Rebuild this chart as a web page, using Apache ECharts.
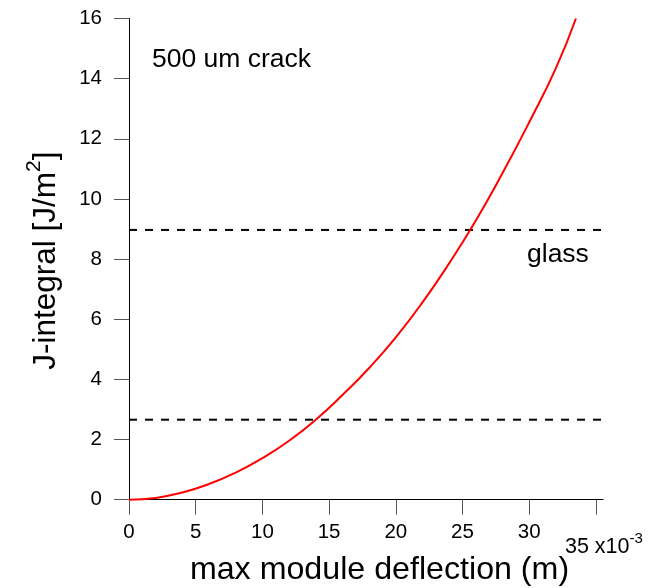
<!DOCTYPE html>
<html>
<head>
<meta charset="utf-8">
<script src="https://cdn.jsdelivr.net/npm/echarts@6/dist/echarts.min.js"></script>
<style>html,body{margin:0;padding:0;background:#fff}#c{width:651px;height:588px}</style>
</head>
<body>
<div id="c"></div>
<script>
var deflection = [0, 2, 4, 6, 8, 10, 12, 14, 16, 18, 20, 22, 24, 26, 28, 30, 32, 33.5];
var jIntegral = [0, 0.06, 0.24, 0.52, 0.9, 1.38, 1.96, 2.66, 3.48, 4.38, 5.4, 6.56, 7.86, 9.28, 10.86, 12.55, 14.35, 16.0];
var glassUpper = 8.97;
var glassLower = 2.66;
var dashedSpan = [0, 35.9];
var xTicks = [0, 5, 10, 15, 20, 25, 30, 35];
var yTicks = [0, 2, 4, 6, 8, 10, 12, 14, 16];

var FONT = 'Liberation Sans';
var chart = echarts.init(document.getElementById('c'), null, {renderer: 'canvas'});

function pairs(xs, ys) { return xs.map(function (x, i) { return [x, ys[i]]; }); }

var option = {
  animation: false,
  backgroundColor: '#fff',
  grid: {left: 126, right: 48, top: 18.5, bottom: 85.3, containLabel: false, outerBoundsMode: 'none'},
  xAxis: {
    type: 'value',
    min: -0.225, max: 35.53,
    splitLine: {show: false},
    axisLine: {show: true, lineStyle: {color: '#000', width: 1}},
    axisTick: {show: true, length: 15, customValues: xTicks, lineStyle: {color: '#555', width: 1}},
    axisLabel: {
      customValues: xTicks, margin: 19, fontFamily: FONT, fontSize: 20.5, color: '#000',
      formatter: function (v) { return v === 35 ? '' : String(v); }
    },
    name: 'max module deflection (m)',
    nameLocation: 'middle', nameGap: 51,
    nameTextStyle: {fontFamily: FONT, fontSize: 32.2, color: '#000', padding: [0, 0, 0, 30]}
  },
  yAxis: {
    type: 'value',
    min: -0.1, max: 16,
    splitLine: {show: false},
    axisLine: {show: true, lineStyle: {color: '#000', width: 1}},
    axisTick: {show: true, length: 15, customValues: yTicks, lineStyle: {color: '#555', width: 1}},
    axisLabel: {customValues: yTicks, margin: 24, fontFamily: FONT, fontSize: 20.5, color: '#000'},
    name: '{a|J-integral [J/m}{s|2}{a|]}',
    nameLocation: 'middle', nameGap: 64,
    nameTextStyle: {
      fontFamily: FONT, fontSize: 31.5, color: '#000',
      rich: {
        a: {fontFamily: FONT, fontSize: 31.5, color: '#000', verticalAlign: 'bottom', lineHeight: 38},
        s: {fontFamily: FONT, fontSize: 21, color: '#000', verticalAlign: 'top', lineHeight: 38}
      }
    }
  },
  series: [
    {
      type: 'line', data: pairs(dashedSpan, [glassUpper, glassUpper]), clip: false,
      symbol: 'none', lineStyle: {color: '#000', width: 2, type: [8, 8]}, silent: true
    },
    {
      type: 'line', data: pairs(dashedSpan, [glassLower, glassLower]), clip: false,
      symbol: 'none', lineStyle: {color: '#000', width: 2, type: [8, 8]}, silent: true
    },
    {
      type: 'line', data: pairs(deflection, jIntegral), smooth: 0.5, clip: false,
      symbol: 'none', lineStyle: {color: '#ff0000', width: 2}
    }
  ]
};
chart.setOption(option);

var p35 = chart.convertToPixel({gridIndex: 0}, [35, 0]);
chart.setOption({
  graphic: [
    {type: 'text', left: 152, top: 46, style: {text: '500 um crack', fontFamily: FONT, fontSize: 26.5, fill: '#000'}},
    {type: 'text', left: 527, top: 241, style: {text: 'glass', fontFamily: FONT, fontSize: 26.5, fill: '#000'}},
    {type: 'text', left: p35[0] - 31, top: 531, style: {
      text: '{a|35 x10}{s|-3}', fontFamily: FONT,
      rich: {
        a: {fontFamily: FONT, fontSize: 21.5, fill: '#000', verticalAlign: 'bottom', lineHeight: 27},
        s: {fontFamily: FONT, fontSize: 15, fill: '#000', verticalAlign: 'top', lineHeight: 27}
      }
    }}
  ]
});
</script>
</body>
</html>
